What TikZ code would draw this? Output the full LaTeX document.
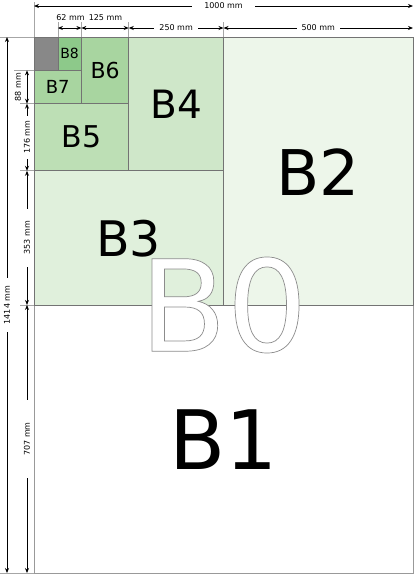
\documentclass[tikz,border=0pt]{standalone}
\usepackage{fontspec}
\setmainfont{DejaVu Sans}
\usetikzlibrary{arrows.meta}
\definecolor{cgray}{HTML}{888888}
\definecolor{cbeight}{HTML}{8DC98A}
\definecolor{cbseven}{HTML}{A8D5A0}
\definecolor{cbfive}{HTML}{BDDFB5}
\definecolor{cbfour}{HTML}{CFE7C9}
\definecolor{cbthree}{HTML}{E0F0DC}
\definecolor{cbtwo}{HTML}{EDF6EA}
\newcommand{\outlinetext}[1]{\special{pdf:code 2 Tr 0.7 w 1 g 0.55 G}#1\special{pdf:code 0 Tr 0 g 0 G}}
\begin{document}
\begin{tikzpicture}[x=1pt,y=-1pt,
  sheet/.style={draw=black!55, line width=0.7pt},
  bl/.style={inner sep=0pt, text=black},
  dim/.style={line width=0.8pt, {Stealth[length=5pt,width=4pt]}-{Stealth[length=5pt,width=4pt]}},
  ext/.style={draw=black!35, line width=0.6pt},
  dimtxt/.style={font=\fontsize{8}{8}\selectfont, fill=white, inner xsep=5pt, inner ysep=1pt},
  dimtxtb/.style={font=\fontsize{8}{8}\selectfont, inner sep=1pt}]
\useasboundingbox (0,0) rectangle (414,574);
% sheets
\fill[white] (34,37) rectangle (413,573);
\draw[sheet, draw=black!40] (34,304.95) rectangle (413,573);
\draw[sheet, fill=cbtwo] (223.5,37) rectangle (413,304.95);
\draw[sheet, fill=cbthree] (34,170.79) rectangle (223.5,304.95);
\draw[sheet, fill=cbfour] (128.75,37) rectangle (223.5,170.79);
\draw[sheet, fill=cbfive] (34,103.7) rectangle (128.75,170.79);
\draw[sheet, fill=cbseven] (81.375,37) rectangle (128.75,103.7);
\draw[sheet, fill=cbseven] (34,70.35) rectangle (81.375,103.7);
\draw[sheet, fill=cbeight] (57.88,37) rectangle (81.375,70.35);
\draw[sheet, fill=cgray] (34,37) rectangle (57.88,70.35);
% labels
\node[bl, font=\fontsize{14}{14}\selectfont] (B8) at (69.63,53.7) {B8};
\node[bl, font=\fontsize{18}{18}\selectfont] (B7) at (57.7,87.0) {B7};
\node[bl, font=\fontsize{22}{22}\selectfont] (B6) at (105.06,70.4) {B6};
\node[bl, font=\fontsize{30}{30}\selectfont] (B5) at (81.4,137.2) {B5};
\node[bl, font=\fontsize{39}{39}\selectfont] (B4) at (176.1,104.5) {B4};
\node[bl, font=\fontsize{49}{49}\selectfont] (B3) at (128.75,238.5) {B3};
\node[bl, font=\fontsize{63}{63}\selectfont] (B2) at (318.25,172) {B2};
\node[bl, font=\fontsize{82}{82}\selectfont] (B1) at (223.5,439.5) {B1};
% B0 outlined text
\node[bl, font=\fontsize{127}{127}\selectfont] (B0) at (223.5,305) {\outlinetext{B0}};
% extension lines top
\draw[ext] (34,2) -- (34,37);
\draw[ext] (57.88,22) -- (57.88,37);
\draw[ext] (81.375,22) -- (81.375,37);
\draw[ext] (128.75,22) -- (128.75,37);
\draw[ext] (223.5,22) -- (223.5,37);
% extension lines left
\draw[ext] (0,37) -- (34,37);
\draw[ext] (14,70.35) -- (34,70.35);
\draw[ext] (20,103.7) -- (34,103.7);
\draw[ext] (20,170.79) -- (34,170.79);
\draw[ext] (20,304.95) -- (34,304.95);
\draw[ext] (0,573) -- (34,573);
% dimension coordinates top
\coordinate (ta) at (34,6);
\coordinate (tb) at (413,6);
\coordinate (sa) at (57.88,28);
\coordinate (sb) at (81.375,28);
\coordinate (sc) at (128.75,28);
\coordinate (sd) at (223.5,28);
\coordinate (se) at (413,28);
\draw[dim] (ta) -- node[dimtxt, inner xsep=12pt] {1000 mm} (tb);
\draw[dim] (sa) -- (sb);
\draw[dim] (sb) -- (sc);
\draw[dim] (sc) -- node[dimtxt] {250 mm} (sd);
\draw[dim] (sd) -- node[dimtxt] {500 mm} (se);
\node[dimtxtb] (l62) at (70.5,17.5) {62 mm};
\node[dimtxtb] (l125) at (105.5,17.5) {125 mm};
% dimension coordinates left
\coordinate (la) at (7,37);
\coordinate (lb) at (7,573);
\coordinate (ma) at (27,70.35);
\coordinate (mb) at (27,103.7);
\coordinate (mc) at (27,170.79);
\coordinate (md) at (27,304.95);
\coordinate (me) at (27,573);
\draw[dim] (la) -- node[dimtxt, rotate=90, inner xsep=8pt] {1414 mm} (lb);
\draw[dim] (ma) -- (mb);
\draw[dim] (mb) -- node[dimtxt, rotate=90] {176 mm} (mc);
\draw[dim] (mc) -- node[dimtxt, rotate=90, inner xsep=12pt] {353 mm} (md);
\draw[dim] (md) -- node[dimtxt, rotate=90, inner xsep=22pt] {707 mm} (me);
\node[dimtxtb, rotate=90] (l88) at (18,87) {88 mm};
\end{tikzpicture}
\end{document}
